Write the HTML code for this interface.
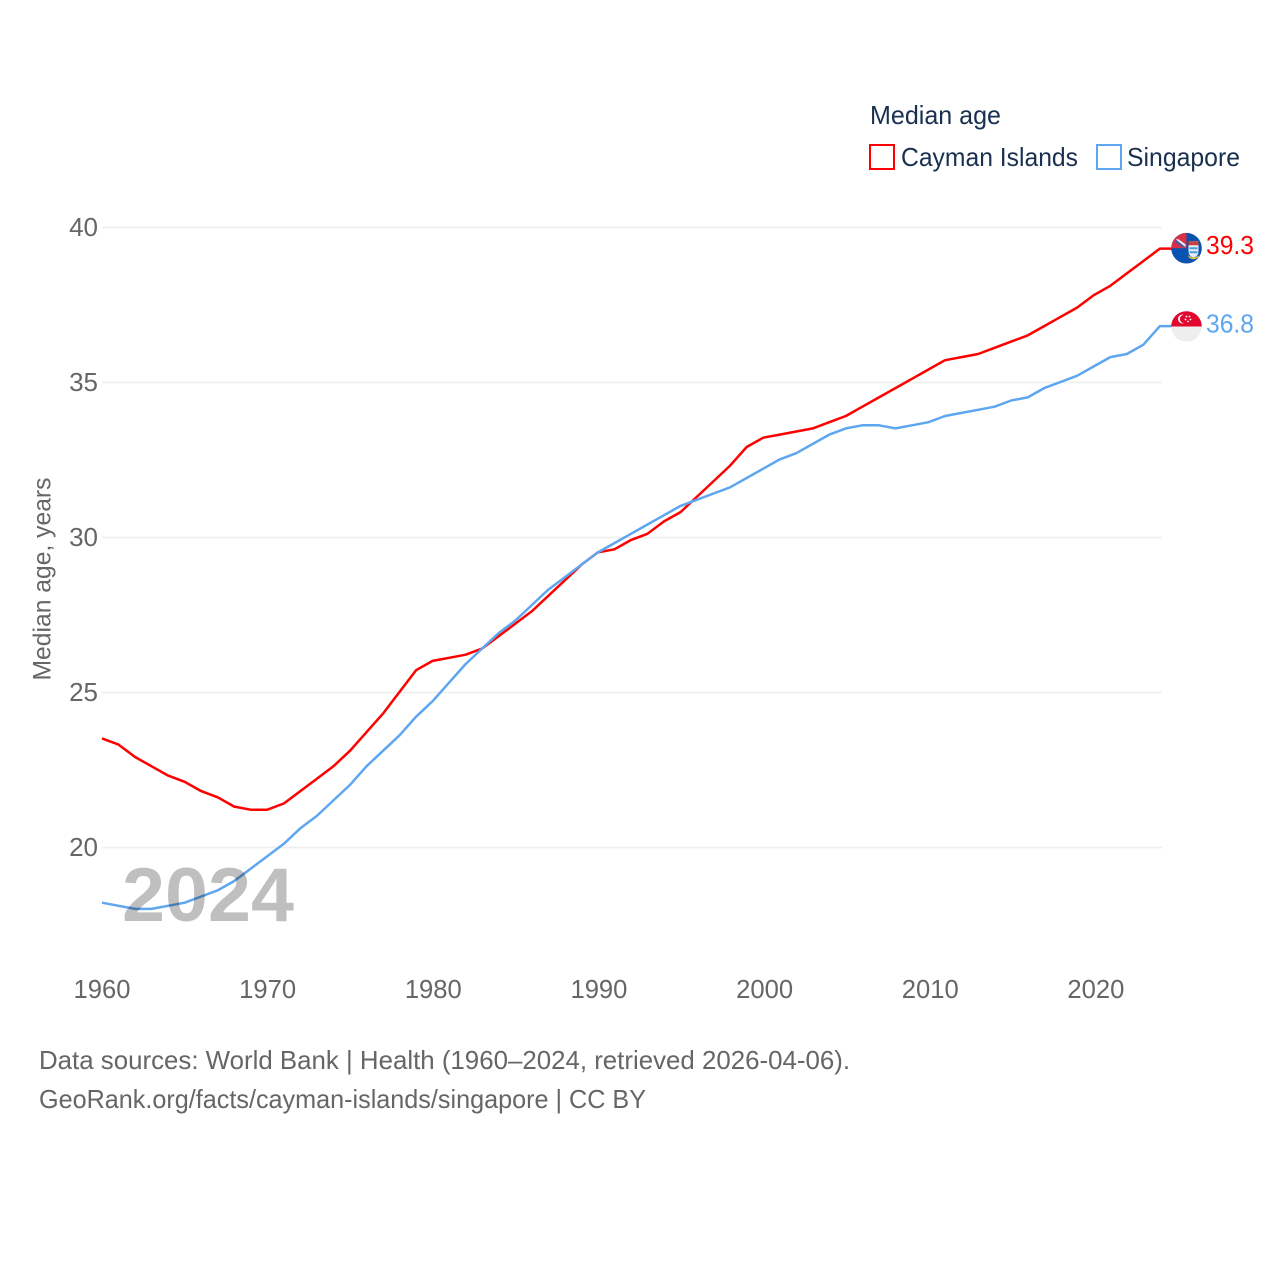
<!DOCTYPE html>
<html lang="en">
<head>
<meta charset="utf-8">
<title>Median age: Cayman Islands and Singapore</title>
<style>
html,body{margin:0;padding:0;background:#fff;}
body{width:1280px;height:1280px;overflow:hidden;}
svg{display:block;}
text{font-family:"Liberation Sans",sans-serif;}
</style>
</head>
<body>
<svg id="chart" xmlns="http://www.w3.org/2000/svg" width="1280" height="1280" viewBox="0 0 1280 1280">
  <rect width="1280" height="1280" fill="#fff"/>
  <g id="grid"></g>
  <g id="yticks"></g>
  <g id="xticks"></g>
  <text transform="translate(50.5 579) rotate(-90)" text-anchor="middle" font-size="25" fill="#666" textLength="203" lengthAdjust="spacingAndGlyphs">Median age, years</text>
  <g id="series"></g>
  <text x="122" y="921" font-size="76" font-weight="bold" fill="#000" fill-opacity="0.25" textLength="172" lengthAdjust="spacingAndGlyphs">2024</text>

  <g>
    <text x="870" y="124" font-size="26" fill="#1a3050" textLength="131" lengthAdjust="spacingAndGlyphs">Median age</text>
    <g>
      <rect x="870" y="145" width="24" height="24" fill="#fff" stroke="#f00" stroke-width="2"/>
      <text x="901" y="166" font-size="26" fill="#1a3050" textLength="177" lengthAdjust="spacingAndGlyphs">Cayman Islands</text>
    </g>
    <g>
      <rect x="1097" y="145" width="24" height="24" fill="#fff" stroke="#5ea6ef" stroke-width="2"/>
      <text x="1127" y="166" font-size="26" fill="#1a3050" textLength="113" lengthAdjust="spacingAndGlyphs">Singapore</text>
    </g>
  </g>

  <defs>
    <clipPath id="flagClipKy"><circle cx="0" cy="0" r="15.3"/></clipPath>
    <clipPath id="flagClipSg"><circle cx="0" cy="0" r="15.3"/></clipPath>
  </defs>
  <g id="flagKy">
    <g clip-path="url(#flagClipKy)">
      <rect x="-16" y="-16" width="32" height="32" fill="#0a52b0"/>
      <rect x="-16" y="-16" width="16" height="16" fill="#d9304a"/>
      <path d="M-11 -9L-1 -1L-1 -4L-8 -9Z" fill="#f3e8ec"/>
      <path d="M-11 -9L-11 -6L-4 -1L-1 -1Z" fill="#3a5aa8"/>
      <path d="M2 -7H12V3Q12 8 7 9.5Q2 8 2 3Z" fill="#e8eef5"/>
      <path d="M2 -7H12V-3H2Z" fill="#c8403a"/>
      <path d="M3 -1H11V1H3ZM3 3H11V5H3Z" fill="#4a9ad8"/>
      <path d="M2 7Q7 12 12 7V9Q7 13 2 9Z" fill="#f1c232"/>
    </g>
  </g>
  <g id="flagSg">
    <g clip-path="url(#flagClipSg)">
      <rect x="-16" y="-16" width="32" height="16" fill="#e0062d"/>
      <rect x="-16" y="0" width="32" height="16" fill="#eeeeee"/>
      <circle cx="-4" cy="-7.5" r="4.5" fill="#fff"/>
      <circle cx="-2.4" cy="-7.5" r="4.2" fill="#e0062d"/>
      <circle cx="0" cy="-10" r="0.9" fill="#fff"/>
      <circle cx="3" cy="-10" r="0.9" fill="#fff"/>
      <circle cx="4" cy="-7" r="0.9" fill="#fff"/>
      <circle cx="1.5" cy="-5" r="0.9" fill="#fff"/>
      <circle cx="-1" cy="-7" r="0.9" fill="#fff"/>
    </g>
  </g>
  <g id="endLabels"></g>

  <g>
    <text x="39" y="1069" font-size="26" fill="#666" textLength="811" lengthAdjust="spacingAndGlyphs">Data sources: World Bank | Health (1960–2024, retrieved 2026-04-06).</text>
    <text x="39" y="1108" font-size="26" fill="#666" textLength="607" lengthAdjust="spacingAndGlyphs">GeoRank.org/facts/cayman-islands/singapore | CC BY</text>
  </g>
</svg>
<script>
const years = [1960,1961,1962,1963,1964,1965,1966,1967,1968,1969,1970,1971,1972,1973,1974,1975,1976,1977,1978,1979,1980,1981,1982,1983,1984,1985,1986,1987,1988,1989,1990,1991,1992,1993,1994,1995,1996,1997,1998,1999,2000,2001,2002,2003,2004,2005,2006,2007,2008,2009,2010,2011,2012,2013,2014,2015,2016,2017,2018,2019,2020,2021,2022,2023,2024];
const caymanIslands = [23.5,23.3,22.9,22.6,22.3,22.1,21.8,21.6,21.3,21.2,21.2,21.4,21.8,22.2,22.6,23.1,23.7,24.3,25.0,25.7,26.0,26.1,26.2,26.4,26.8,27.2,27.6,28.1,28.6,29.1,29.5,29.6,29.9,30.1,30.5,30.8,31.3,31.8,32.3,32.9,33.2,33.3,33.4,33.5,33.7,33.9,34.2,34.5,34.8,35.1,35.4,35.7,35.8,35.9,36.1,36.3,36.5,36.8,37.1,37.4,37.8,38.1,38.5,38.9,39.3];
const singapore = [18.2,18.1,18.0,18.0,18.1,18.2,18.4,18.6,18.9,19.3,19.7,20.1,20.6,21.0,21.5,22.0,22.6,23.1,23.6,24.2,24.7,25.3,25.9,26.4,26.9,27.3,27.8,28.3,28.7,29.1,29.5,29.8,30.1,30.4,30.7,31.0,31.2,31.4,31.6,31.9,32.2,32.5,32.7,33.0,33.3,33.5,33.6,33.6,33.5,33.6,33.7,33.9,34.0,34.1,34.2,34.4,34.5,34.8,35.0,35.2,35.5,35.8,35.9,36.2,36.8];
const yTickValues = [20,25,30,35,40];
const xTickValues = [1960,1970,1980,1990,2000,2010,2020];

const NS = 'http://www.w3.org/2000/svg';
const xScale = function (year) { return 102 + (year - 1960) * 16.53; };
const xTickScale = function (year) { return 102 + (year - 1960) * 16.565; };
const yScale = function (value) { return 847.5 - (value - 20) * 31; };
const ySeries = function (value) { return yScale(value) - 0.6; };
const make = function (tag, parent) {
  const el = document.createElementNS(NS, tag);
  parent.appendChild(el);
  return el;
};

const gridGroup = document.getElementById('grid');
const yTickGroup = document.getElementById('yticks');
yTickValues.forEach(function (v) {
  const line = make('line', gridGroup);
  
  
  line.setAttribute('x1', 102);
  line.setAttribute('x2', 1162);
  line.setAttribute('y1', yScale(v));
  line.setAttribute('y2', yScale(v));
  line.setAttribute('stroke', '#eeeeee');
  line.setAttribute('stroke-width', 1.5);
  const label = make('text', yTickGroup);
  
  
  label.setAttribute('x', 98);
  label.setAttribute('y', yScale(v) + 8.5);
  label.setAttribute('text-anchor', 'end');
  label.setAttribute('font-size', '26');
  label.setAttribute('fill', '#666');
  label.textContent = v;
});

const xTickGroup = document.getElementById('xticks');
xTickValues.forEach(function (y) {
  const label = make('text', xTickGroup);
  
  
  label.setAttribute('x', xTickScale(y));
  label.setAttribute('y', 998);
  label.setAttribute('text-anchor', 'middle');
  label.setAttribute('font-size', '25.6');
  label.setAttribute('fill', '#666');
  label.textContent = y;
});

const seriesGroup = document.getElementById('series');
const labelGroup = document.getElementById('endLabels');

const drawLine = function (values, color) {
  const last = values[values.length - 1];
  const pts = values.map(function (v, i) {
    return xScale(years[i]).toFixed(2) + ',' + ySeries(v).toFixed(2);
  });
  pts.push('1172,' + ySeries(last).toFixed(2));
  const line = make('polyline', seriesGroup);
  line.setAttribute('points', pts.join(' '));
  line.setAttribute('fill', 'none');
  line.setAttribute('stroke', color);
  line.setAttribute('stroke-width', 2.5);
  line.setAttribute('stroke-linejoin', 'round');
  return line;
};

const drawEndLabel = function (values, color, dy) {
  const last = values[values.length - 1];
  const label = make('text', labelGroup);
  label.setAttribute('x', 1206);
  label.setAttribute('y', yScale(last) + dy);
  label.setAttribute('font-size', '26');
  label.setAttribute('fill', color);
  label.setAttribute('textLength', '48');
  label.setAttribute('lengthAdjust', 'spacingAndGlyphs');
  label.textContent = last.toFixed(1);
  return label;
};

const caymanLine = drawLine(caymanIslands, '#ff0000');



const singaporeLine = drawLine(singapore, '#5ea6ef');



const caymanLabel = drawEndLabel(caymanIslands, '#ff0000', 5);



const singaporeLabel = drawEndLabel(singapore, '#5ea6ef', 6);



document.getElementById('flagKy').setAttribute('transform', 'translate(1186.5 ' + (yScale(caymanIslands[caymanIslands.length - 1]) - 1) + ')');
document.getElementById('flagSg').setAttribute('transform', 'translate(1186.5 ' + (yScale(singapore[singapore.length - 1]) - 0.2) + ')');
</script>
</body>
</html>
